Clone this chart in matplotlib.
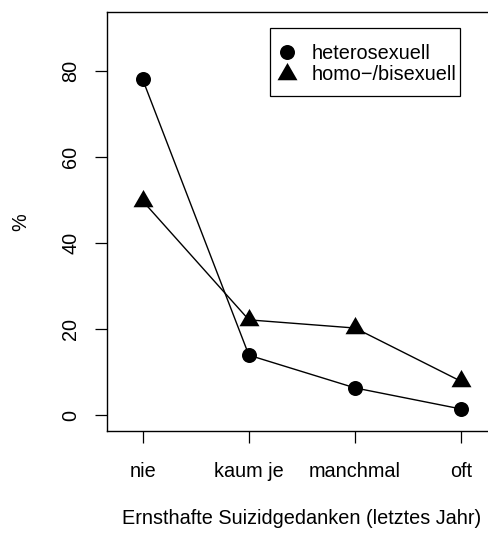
import matplotlib
matplotlib.use("Agg")
import matplotlib.pyplot as plt
from matplotlib.patches import Rectangle
from matplotlib.lines import Line2D
from matplotlib.transforms import Affine2D

# ---- data -------------------------------------------------------------
categories = ["nie", "kaum je", "manchmal", "oft"]
hetero = [78.0, 14.0, 6.4, 1.5]
homobi = [49.8, 22.2, 20.3, 7.9]
series_names = ["heterosexuell", "homo\u2212/bisexuell"]
y_ticks = [0, 20, 40, 60, 80]
x_label = "Ernsthafte Suizidgedanken (letztes Jahr)"
y_label = "%"

# ---- layout (pixel geometry of the canvas) ----------------------------
W, H = 489, 534
DPI = 100
FS = 14.3

plt.rcParams["font.family"] = ["Liberation Sans", "DejaVu Sans"]

fig = plt.figure(figsize=(W / DPI, H / DPI), dpi=DPI)
# transform taking (x_px, y_px from top) to figure coordinates
px = Affine2D().scale(1 / W, -1 / H).translate(0, 1) + fig.transFigure

left, right, top, bottom = 107, 497, 12.3, 431
ax = fig.add_axes([left / W, 1 - bottom / H, (right - left) / W, (bottom - top) / H])

xs = list(range(1, len(categories) + 1))

# triangle with its centroid at the origin (filled "pch 17" style)
tri = [(0, 1.555), (1.347, -0.778), (-1.347, -0.778), (0, 1.555)]

ax.plot(xs, hetero, color="black", lw=1.0, marker="o", markersize=10.8,
        markeredgewidth=0, zorder=3)
ax.plot(xs, homobi, color="black", lw=1.0, marker=tri, markersize=16.6,
        markeredgewidth=0, zorder=3)

# R-like limits: range extended by 4 % on each side
xlo, xhi = 0.8, 4.2
ylo, yhi = 0, 90
dx, dy = 0.04 * (xhi - xlo), 0.04 * (yhi - ylo)
ax.set_xlim(xlo - dx, xhi + dx)
ax.set_ylim(ylo - dy, yhi + dy)

ax.set_xticks(xs)
ax.set_xticklabels(categories, fontsize=FS)
ax.set_yticks(y_ticks)
ax.set_yticklabels([str(t) for t in y_ticks], fontsize=FS, rotation=90, va="center")

ax.tick_params(axis="both", direction="out", length=8.8, width=0.9, color="black")
ax.tick_params(axis="x", pad=13.5)
ax.tick_params(axis="y", pad=10.5)

for sp in ax.spines.values():
    sp.set_linewidth(1.0)
    sp.set_color("black")

ax.set_xlabel(x_label, fontsize=FS, va="center")
ax.xaxis.set_label_coords(0.5, (bottom - 519) / (bottom - top))
ax.set_ylabel(y_label, fontsize=FS, va="center", ha="center")
ax.yaxis.set_label_coords((21 - left) / (right - left), 0.5)

# ---- legend -------------------------------------------------------------
fig.add_artist(Rectangle((270, 27.5), 190, 68.5, transform=px, fill=False,
                         edgecolor="black", linewidth=0.9))
fig.add_artist(Line2D([286.5], [52.0], transform=px, marker="o", markersize=10.8,
                      markeredgewidth=0, color="black", linestyle="none"))
fig.add_artist(Line2D([286.5], [73.8], transform=px, marker=tri, markersize=16.6,
                      markeredgewidth=0, color="black", linestyle="none"))
fig.text(311.5 / W, 1 - 59.3 / H, series_names[0], fontsize=FS, ha="left",
         va="baseline")
fig.text(311.5 / W, 1 - 79.8 / H, series_names[1], fontsize=FS, ha="left",
         va="baseline")

fig.savefig("out.png", dpi=DPI)
